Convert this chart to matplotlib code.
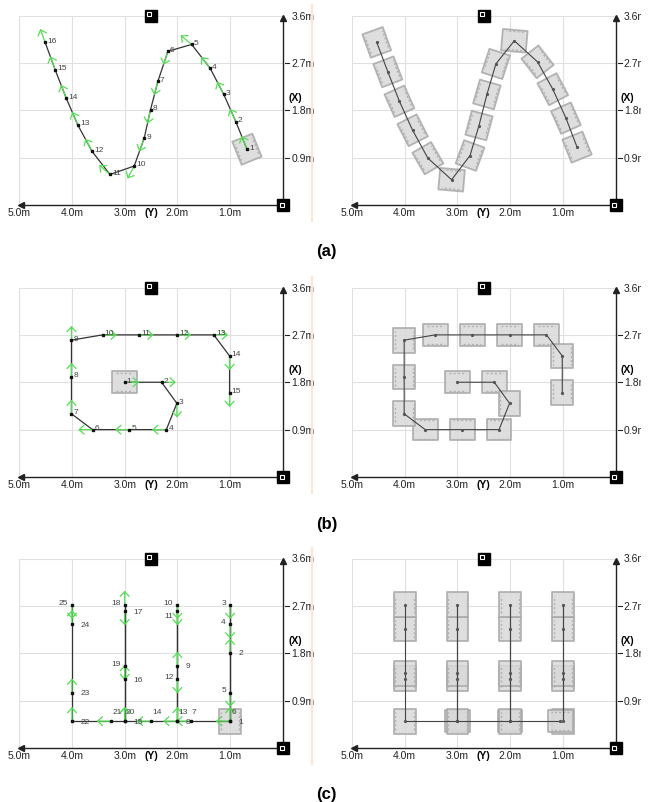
import numpy as np
import matplotlib
matplotlib.use('Agg')
import matplotlib.pyplot as plt
from matplotlib.patches import Polygon, Rectangle
from matplotlib.lines import Line2D

plt.rcParams['font.family'] = ['Liberation Sans', 'DejaVu Sans']

# axis ticks (metres)
y_ticks = [5.0, 4.0, 3.0, 2.0, 1.0]
x_ticks = [0.9, 1.8, 2.7, 3.6]

# (a) sine path: waypoints (Y, X, heading deg) and executed robot poses
a_wp_y = [0.68, 0.89, 1.12, 1.38, 1.73, 2.18, 2.37, 2.51, 2.63, 2.82, 3.28, 3.62, 3.89, 4.11, 4.32, 4.51]
a_wp_x = [1.06, 1.58, 2.10, 2.60, 3.05, 2.92, 2.35, 1.81, 1.27, 0.74, 0.58, 1.02, 1.52, 2.03, 2.57, 3.09]
a_wp_h = [68, 66, 62, 52, 40, -72, -75, -77, -70, -62, 41, 62, 67, 69, 70, 70]
a_run_y = [0.73, 0.94, 1.19, 1.48, 1.92, 2.27, 2.44, 2.59, 2.76, 3.11, 3.56, 3.85, 4.10, 4.32, 4.53]
a_run_x = [1.10, 1.65, 2.20, 2.72, 3.12, 2.68, 2.10, 1.51, 0.94, 0.48, 0.89, 1.42, 1.97, 2.53, 3.09]
a_run_h = [68, 66, 62, 52, 5, -72, -74, -75, -70, 5, 60, 63, 66, 69, 70]

# (b) spiral path
b_wp_y = [3.00, 2.30, 2.01, 2.21, 2.91, 3.61, 4.01, 4.01, 4.01, 3.42, 2.72, 2.01, 1.31, 1.01, 1.01]
b_wp_x = [1.80, 1.80, 1.40, 0.90, 0.90, 0.90, 1.20, 1.90, 2.60, 2.70, 2.70, 2.70, 2.70, 2.30, 1.60]
b_wp_h = [180, 180, -90, 0, 0, 0, 90, 90, 90, 180, 180, 180, 180, -90, -90]

# (c) comb path
c_wp_y = [1.0, 1.0, 1.0, 1.0, 1.0, 1.0, 1.75, 2.0, 2.0, 2.0, 2.0, 2.0, 2.0, 2.5,
          3.0, 3.0, 3.0, 3.0, 3.0, 3.0, 3.26, 4.0, 4.0, 4.0, 4.0]
c_wp_x = [0.51, 1.81, 2.72, 2.35, 1.05, 0.51, 0.51, 0.51, 1.56, 2.72, 2.60, 1.31, 0.51, 0.51,
          0.51, 1.31, 2.60, 2.72, 1.56, 0.51, 0.51, 0.51, 1.05, 2.35, 2.72]
c_wp_h = [90, 90, -90, -90, -90, 0, 0, 0, 90, -90, -90, -90, 90, 0,
          90, 90, -90, 90, -90, 90, 0, 90, 90, 90, -90]
c_run_y = [1.0, 1.0, 1.0, 1.0, 1.0, 1.05, 2.0, 2.0, 2.0, 2.0, 2.0, 2.0,
           3.0, 3.0, 3.0, 3.0, 3.0, 3.0, 4.0, 4.0, 4.0, 4.0, 4.0]
c_run_x = [0.51, 1.32, 1.42, 2.26, 2.72, 0.51, 0.51, 0.51, 1.32, 1.42, 2.26, 2.72,
           0.51, 0.51, 1.32, 1.42, 2.26, 2.72, 0.51, 1.32, 1.42, 2.26, 2.72]
c_run_h = [90, 90, 90, 90, 90, 0, 0, 90, 90, 90, 90, 90,
           0, 90, 90, 90, 90, 90, 90, 90, 90, 90, 90]

captions = ['(a)', '(b)', '(c)']

# label placement for (c): r = right, l = left, u = above, m = left and lower
c_lab = ['r', 'r', 'l', 'l', 'l', 'u', 'u', 'r', 'r', 'l', 'm', 'l', 'u', 'u',
         'r', 'r', 'r', 'l', 'l', 'u', 'u', 'r', 'r', 'r', 'l']

GREEN = '#55dd55'
BOX_L, BOX_W = 0.47, 0.41

W, H = 653, 803
fig = plt.figure(figsize=(W / 100, H / 100), dpi=100)


def add_ax(left_px, zero_px):
    return fig.add_axes([left_px / W, (H - zero_px) / H, 263.5 / W, 189.5 / H])


def frame(ax):
    ax.set_xlim(5.0, 0)
    ax.set_ylim(0, 3.6)
    ax.axis('off')
    for y in [4.0, 3.0, 2.0, 1.0]:
        ax.plot([y, y], [0, 3.6], color='#e0e0e0', lw=0.8, zorder=0)
    for x in [0.9, 1.8, 2.7]:
        ax.plot([5, 0], [x, x], color='#e0e0e0', lw=0.8, zorder=0)
    ax.plot([5, 5], [0, 3.6], color='#e0e0e0', lw=0.8, zorder=0)
    ax.plot([5, 0], [3.6, 3.6], color='#e0e0e0', lw=0.8, zorder=0)
    # main axes with arrows
    ax.plot([0, 0], [0, 3.55], color='#222222', lw=1.0, clip_on=False)
    ax.plot([0], [3.56], marker='^', ms=4, color='#222222', clip_on=False)
    ax.plot([0, 4.95], [0, 0], color='#222222', lw=1.0, clip_on=False)
    ax.plot([4.97], [0], marker='<', ms=4, color='#222222', clip_on=False)
    for x in x_ticks:
        if x < 3.6:
            ax.plot([-0.05, -0.12], [x, x], color='#222222', lw=0.8, clip_on=False)
        ax.text(-0.16, x, f'{x}m', ha='left', va='center', fontsize=7.5,
                color='#222222', clip_on=False)
    for y in y_ticks:
        ax.text(y, -0.14, f'{y:.1f}m', ha='center', va='center', fontsize=7.5,
                color='#222222', clip_on=False)
    ax.text(2.5, -0.13, '(Y)', ha='center', va='center', fontsize=7.5,
            fontweight='bold', clip_on=False)
    ax.text(-0.10, 2.05, '(X)', ha='left', va='center', fontsize=7.5,
            fontweight='bold', clip_on=False)
    # small icons
    ax.plot([2.5], [3.6], marker='s', ms=8, color='black', clip_on=False, zorder=6)
    ax.plot([2.53], [3.63], marker='s', ms=3.5, mfc='none', mec='white', mew=0.8,
            clip_on=False, zorder=7)
    ax.plot([0], [0], marker='s', ms=8, color='black', clip_on=False, zorder=6)
    ax.plot([0.02], [0.0], marker='s', ms=3.5, mfc='none', mec='white', mew=0.8,
            clip_on=False, zorder=7)


def robot(ax, y, x, h, alpha=0.85):
    t = np.radians(h)
    f = np.array([np.cos(t), np.sin(t)])
    s = np.array([-np.sin(t), np.cos(t)])
    c = np.array([y, x])
    pts = [c + f * BOX_L / 2 + s * BOX_W / 2, c - f * BOX_L / 2 + s * BOX_W / 2,
           c - f * BOX_L / 2 - s * BOX_W / 2, c + f * BOX_L / 2 - s * BOX_W / 2]
    ax.add_patch(Polygon(pts, closed=True, facecolor='#d9d9d9', edgecolor='#a8a8a8',
                         lw=1.3, alpha=alpha, zorder=2, joinstyle='round'))
    for k in (1, -1):
        p0 = c + s * k * (BOX_W / 2 - 0.03) - f * BOX_L * 0.35
        p1 = c + s * k * (BOX_W / 2 - 0.03) + f * BOX_L * 0.35
        ax.plot([p0[0], p1[0]], [p0[1], p1[1]], color='#b2b2b2', lw=1.0,
                ls=(0, (1.5, 1.5)), zorder=2)


def heading(ax, y, x, h, L=0.27):
    t = np.radians(h)
    ax.annotate('', xy=(y + L * np.cos(t), x + L * np.sin(t)), xytext=(y, x),
                arrowprops=dict(arrowstyle='->,head_length=0.35,head_width=0.32',
                                color=GREEN, lw=0.9, shrinkA=0, shrinkB=0), zorder=4)


def plan(ax, ys, xs, hs, labels=None):
    ax.plot(ys, xs, color='#333333', lw=0.9, zorder=3)
    ax.plot(ys, xs, ls='none', marker='s', ms=2, color='#111111', zorder=5)
    for y, x, h in zip(ys, xs, hs):
        heading(ax, y, x, h)
    for i, (y, x) in enumerate(zip(ys, xs)):
        side = labels[i] if labels else 'd'
        if side == 'r':
            off, ha = (6, 0), 'left'
        elif side == 'l':
            off, ha = (-3, 2), 'right'
        elif side == 'm':
            off, ha = (-3, -3), 'right'
        elif side == 'u':
            off, ha = (1, 7), 'left'
        else:
            off, ha = (1.5, 1.5), 'left'
        ax.annotate(str(i + 1), (y, x), xytext=off, textcoords='offset points',
                    ha=ha, va='center', fontsize=6.0, color='#444444', zorder=6)
    robot(ax, ys[0], xs[0], hs[0])


def run(ax, ys, xs, hs, track_y=None, track_x=None):
    for y, x, h in zip(ys, xs, hs):
        robot(ax, y, x, h)
    ty = ys if track_y is None else track_y
    tx = xs if track_x is None else track_x
    ax.plot(ty, tx, color='#444444', lw=0.8, zorder=3)
    ax.plot(ys, xs, ls='none', marker='o', ms=1.3, color='#555555', zorder=4)


rows = [206, 478, 749]
axes = [(add_ax(19.3, r), add_ax(352, r)) for r in rows]
for la, ra in axes:
    frame(la)
    frame(ra)

plan(axes[0][0], a_wp_y, a_wp_x, a_wp_h)
run(axes[0][1], a_run_y, a_run_x, a_run_h)
plan(axes[1][0], b_wp_y, b_wp_x, b_wp_h)
run(axes[1][1], b_wp_y, b_wp_x, b_wp_h)
plan(axes[2][0], c_wp_y, c_wp_x, c_wp_h, labels=c_lab)
run(axes[2][1], c_run_y, c_run_x, c_run_h, track_y=c_wp_y, track_x=c_wp_x)

for r, cap in zip(rows, captions):
    fig.text(0.5, 1 - (r + 46) / H, cap, ha='center', va='center',
             fontsize=12, fontweight='bold')
    fig.add_artist(Line2D([311.5 / W, 311.5 / W], [1 - (r - 200) / H, 1 - (r + 16) / H],
                          color='#fbe6d0', lw=1.5))

# right edge of the source image is cropped
fig.add_artist(Rectangle((641 / W, 0), 12 / W, 1, facecolor='white',
                         edgecolor='none', zorder=20))

fig.savefig('out.png', dpi=100, facecolor='white')
